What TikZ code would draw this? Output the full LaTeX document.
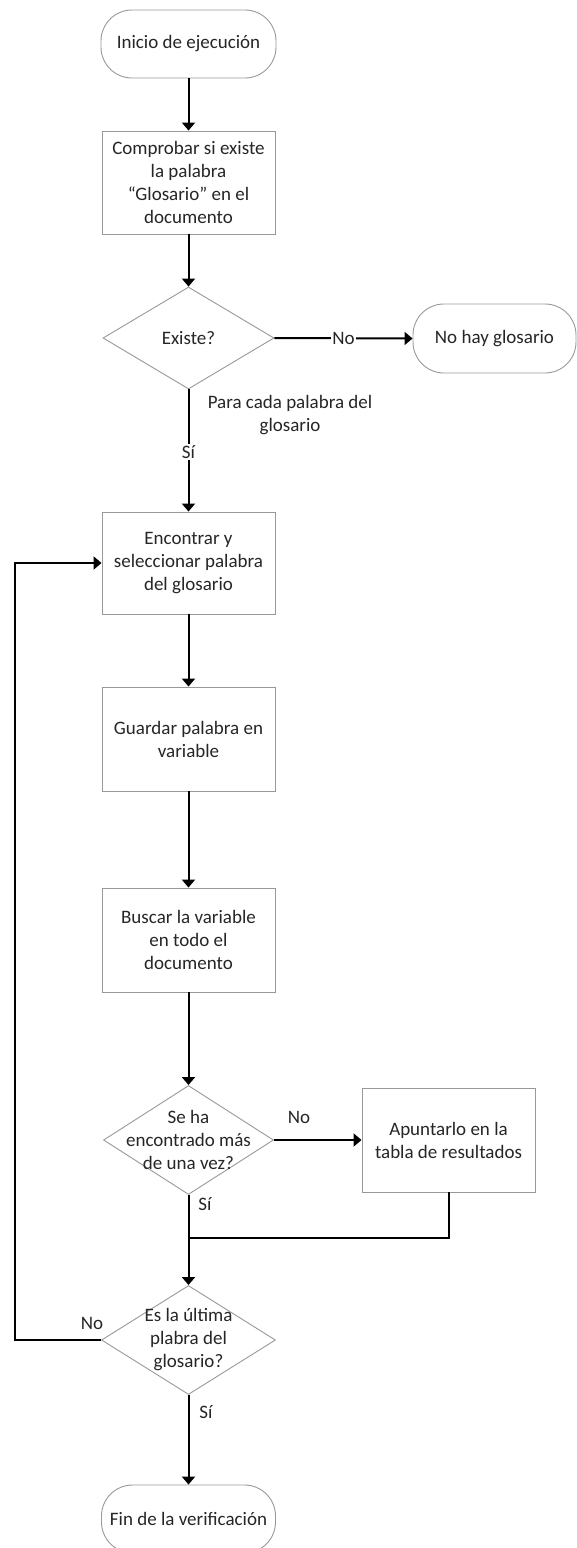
\documentclass[tikz,border=0pt]{standalone}
\usepackage{fontspec}
\setmainfont{Carlito}
\usetikzlibrary{shapes.geometric,arrows.meta}
\begin{document}
\begin{tikzpicture}[x=1pt,y=-1pt,
  font=\fontsize{19}{23}\selectfont,
  shapeline/.style={draw=black!40,line width=0.9pt,fill=white,text=black!85},
  term/.style={shapeline,rectangle,rounded corners=31pt,inner sep=0pt},
  proc/.style={shapeline,rectangle,align=center,inner sep=0pt},
  decision/.style={shapeline,diamond,inner sep=0pt},
  dtext/.style={align=center,text=black!85},
  flow/.style={line width=2pt,-{Triangle[width=13pt,length=8pt]}},
  link/.style={line width=2pt},
  tag/.style={fill=white,inner sep=1.5pt,text=black!85}]
\clip (0,0) rectangle (577,1548);
\fill[white] (0,0) rectangle (577,1548);

% nodes
\node[term,minimum width=175pt,minimum height=68pt] (start) at (188.5,44) {Inicio de ejecución};
\node[proc,minimum width=173pt,minimum height=103pt] (check) at (188.5,182.5)
  {Comprobar si existe\\la palabra\\“Glosario” en el\\documento};
\node[decision,minimum width=171pt,minimum height=102pt] (exists) at (188.5,338) {};
\node[dtext] at (exists) {Existe?};
\node[term,minimum width=163pt,minimum height=69pt] (noglos) at (494.5,338.5) {No hay glosario};
\node[dtext] (foreach) at (290,415) {Para cada palabra del\\glosario};
\node[proc,minimum width=173pt,minimum height=102pt] (select) at (188.5,563)
  {Encontrar y\\seleccionar palabra\\del glosario};
\node[proc,minimum width=173pt,minimum height=104pt] (store) at (188.5,739)
  {Guardar palabra en\\variable};
\node[proc,minimum width=173pt,minimum height=104pt] (search) at (188.5,940)
  {Buscar la variable\\en todo el\\documento};
\node[decision,minimum width=170pt,minimum height=109pt] (found) at (188.5,1140) {};
\node[dtext] at (found) {Se ha\\encontrado más\\de una vez?};
\node[proc,minimum width=173pt,minimum height=104pt] (note) at (448.5,1140)
  {Apuntarlo en la\\tabla de resultados};
\node[decision,minimum width=174pt,minimum height=109pt] (last) at (188.5,1340) {};
\node[dtext] at (last) {Es la última\\plabra del\\glosario?};
\node[term,minimum width=174pt,minimum height=68pt] (finish) at (188.5,1519) {Fin de la verificación};

% connectors
\draw[flow] (start) -- (check);
\draw[flow] (check) -- (exists);
\draw[flow] (exists.east) -- node[tag] {No} (noglos.west);
\draw[flow] (exists.south) -- node[tag,pos=0.51] {Sí} (select.north);
\draw[flow] (select) -- (store);
\draw[flow] (store) -- (search);
\draw[flow] (search.south) -- (found.north);
\draw[flow] (found.east) -- (note.west);
\node[tag] at (299,1117) {No};
\node[tag,fill=none] at (205,1204) {Sí};
\coordinate (merge) at (188.5,1238);
\draw[link] (note.south) |- (merge);
\draw[flow] (found.south) -- (last.north);
\coordinate (loopcorner) at (15,1340);
\draw[flow] (last.west) -- (loopcorner) |- (select.west);
\node[tag,fill=none] at (92,1323) {No};
\draw[flow] (last.south) -- (finish.north);
\node[tag,fill=none] at (206,1412) {Sí};
\end{tikzpicture}
\end{document}
